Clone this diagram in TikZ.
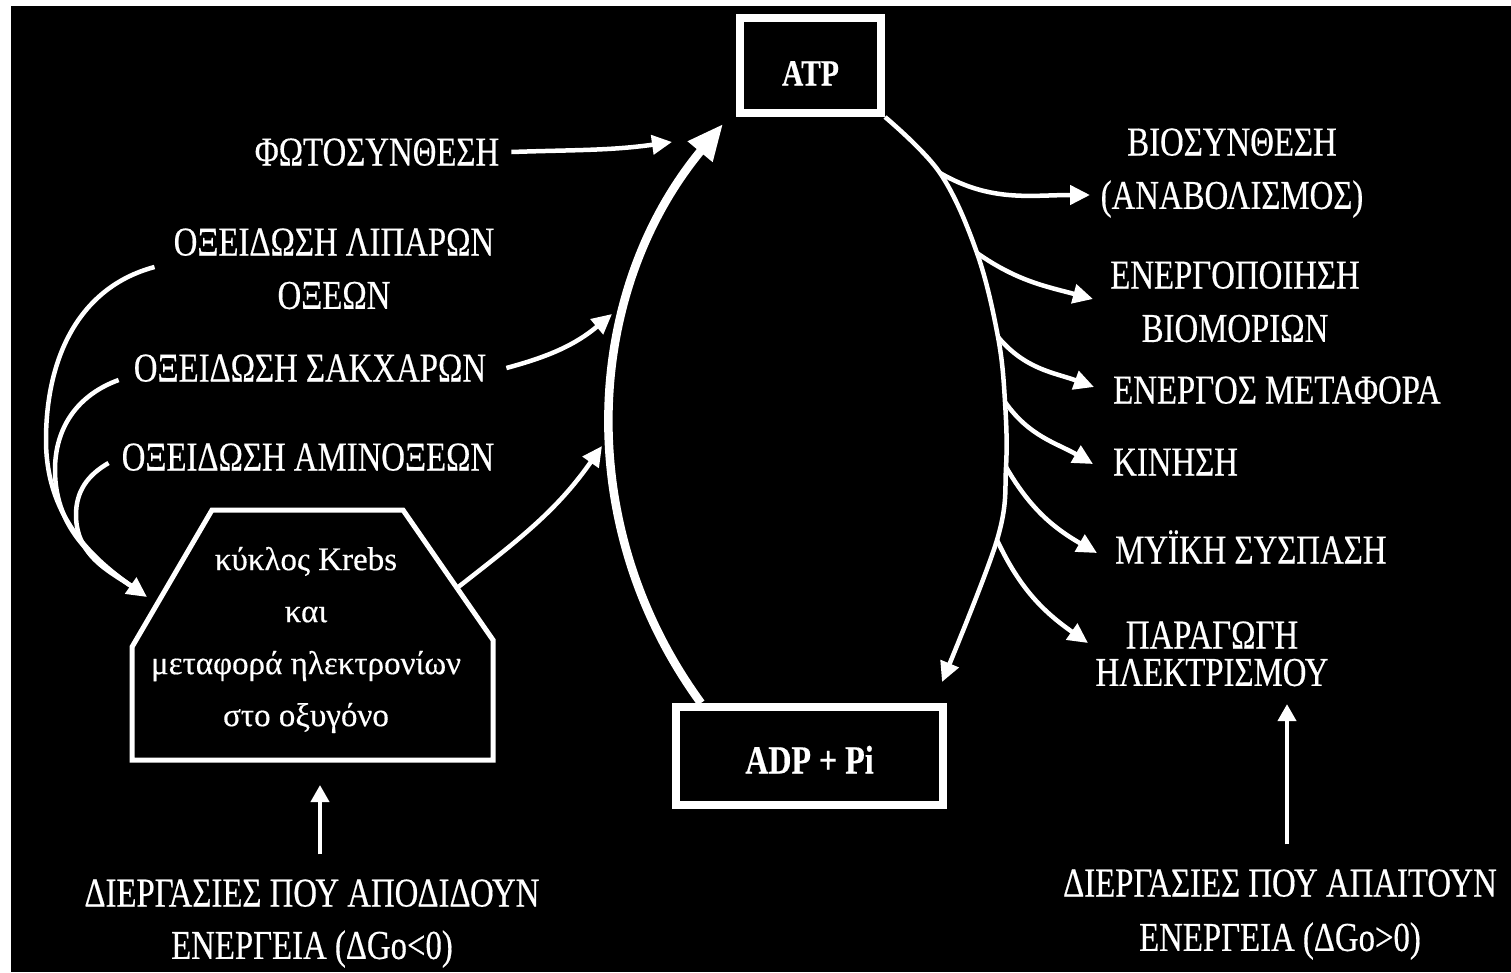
\documentclass[tikz,border=0pt]{standalone}
\usepackage{fontspec}
\setmainfont{Liberation Serif}[FakeStretch=0.80, FakeBold=0.4]
\newfontfamily\krebsfont{Liberation Serif}[FakeBold=0.4]
\usetikzlibrary{positioning,arrows.meta,calc}

\begin{document}
\begin{tikzpicture}[
  x=1pt, y=1pt,
  txt/.style={text=white, font=\fontsize{41}{48}\selectfont, inner sep=0pt, text height=27pt, text depth=0pt},
  ktxt/.style={text=white, font=\krebsfont\fontsize{33}{52}\selectfont, inner sep=0pt, align=center},
  molbox/.style={draw=white, line width=8pt, text=white, inner sep=0pt, text depth=0pt},
  kbox/.style={draw=white, line width=5pt, line join=miter},
  arr/.style={-{Triangle[length=20pt,width=19pt]}, color=white, line width=4.5pt},
  bigarr/.style={-{Triangle[length=36pt,width=30pt]}, color=white, line width=8.5pt},
  uparr/.style={-{Triangle[length=17pt,width=18pt]}, color=white, line width=4pt}
]
\useasboundingbox (0,0) rectangle (1511,-972);
\fill[white] (0,0) rectangle (1511,-972);
\fill[black] (11,-6) rectangle (1511,-972);

\node[molbox, minimum width=141pt, minimum height=95pt, font=\bfseries\fontsize{37}{40}\selectfont, text height=40pt] (atp) at (810.5,-65.5) {ATP};
\node[molbox, minimum width=267pt, minimum height=98pt, font=\bfseries\fontsize{40}{44}\selectfont, text height=35pt] (adp) at (809.5,-756) {ADP + Pi};

\node[txt] (foto) at (377,-152) {ΦΩΤΟΣΥΝΘΕΣΗ};
\node[txt] (lip1) at (334,-242) {ΟΞΕΙΔΩΣΗ ΛΙΠΑΡΩΝ};
\node[txt, below=26pt of lip1] (lip2) {ΟΞΕΩΝ};
\node[txt] (sakx) at (310,-368) {ΟΞΕΙΔΩΣΗ ΣΑΚΧΑΡΩΝ};
\node[txt] (amin) at (308,-457) {ΟΞΕΙΔΩΣΗ ΑΜΙΝΟΞΕΩΝ};
\node[txt] (apod1) at (312,-893) {ΔΙΕΡΓΑΣΙΕΣ ΠΟΥ ΑΠΟΔΙΔΟΥΝ};
\node[txt, below=25pt of apod1] (apod2) {ΕΝΕΡΓΕΙΑ (ΔGo<0)};

\node[txt] (bio1) at (1232,-142) {ΒΙΟΣΥΝΘΕΣΗ};
\node[txt, below=26pt of bio1] (bio2) {(ΑΝΑΒΟΛΙΣΜΟΣ)};
\node[txt] (energ1) at (1235,-275) {ΕΝΕΡΓΟΠΟΙΗΣΗ};
\node[txt, below=26pt of energ1] (energ2) {ΒΙΟΜΟΡΙΩΝ};
\node[txt, anchor=west] (metaf) at (1113,-390) {ΕΝΕΡΓΟΣ ΜΕΤΑΦΟΡΑ};
\node[txt, anchor=west] (kin) at (1113,-462) {ΚΙΝΗΣΗ};
\node[txt, anchor=west] (myik) at (1115,-550) {ΜΥΪΚΗ ΣΥΣΠΑΣΗ};
\node[txt] (parag1) at (1212,-635) {ΠΑΡΑΓΩΓΗ};
\node[txt, below=10pt of parag1] (parag2) {ΗΛΕΚΤΡΙΣΜΟΥ};
\node[txt] (apait1) at (1280,-883) {ΔΙΕΡΓΑΣΙΕΣ ΠΟΥ ΑΠΑΙΤΟΥΝ};
\node[txt, below=27pt of apait1] (apait2) {ΕΝΕΡΓΕΙΑ (ΔGo>0)};

\coordinate (k1) at (212,-510);
\coordinate (k2) at (403,-510);
\coordinate (k3) at (493,-640);
\coordinate (k4) at (493,-760);
\coordinate (k5) at (132,-760);
\coordinate (k6) at (132,-647);
\draw[kbox] (k1) -- (k2) -- (k3) -- (k4) -- (k5) -- (k6) -- cycle;
\node[ktxt] (krebs) at (306,-640) {κύκλος Krebs\\και\\μεταφορά ηλεκτρονίων\\στο οξυγόνο};

\coordinate (a1) at (672,-142);
\coordinate (a2) at (612,-314);
\coordinate (a3) at (602,-446);
\coordinate (kin0) at (147,-597);
\coordinate (b1) at (940,-173);
\coordinate (b2) at (977,-253);
\coordinate (b3) at (998,-337);
\coordinate (b4) at (1005,-402);
\coordinate (b5) at (1006,-467);
\coordinate (b6) at (997,-540);
\coordinate (r0) at (942,-682);
\coordinate (t1) at (1090,-195);
\coordinate (t2) at (1093,-299);
\coordinate (t3) at (1094,-387);
\coordinate (t4) at (1093,-464);
\coordinate (t5) at (1097,-553);
\coordinate (t6) at (1088,-643);

\draw[bigarr] ([xshift=29pt]adp.north west) .. controls (571,-525) and (584,-292) .. ([shift={(-13,-7)}]atp.south west);
\draw[arr] plot[smooth, tension=0.6] coordinates {(atp.south east) (b1) (b2) (b3) (b4) (b5) (b6) (r0)};

\draw[arr] ([xshift=12pt]foto.east) to[out=2,in=188] (a1);
\draw[arr] ([xshift=20pt]sakx.east) to[out=15,in=220] (a2);
\draw[arr] ($(k2)!0.6!(k3)$) to[out=38,in=235] (a3);

\draw[arr] ([shift={(-19,-25)}]lip1.west) to[out=195,in=90] (46,-440) to[out=270,in=145] (kin0);
\draw[arr, -, shorten >=16pt] ([shift={(-15,-12)}]sakx.west) to[out=200,in=90] (55,-470) to[out=270,in=145] (kin0);
\draw[arr, -, shorten >=16pt] ([shift={(-13,-6)}]amin.west) to[out=210,in=90] (76,-515) to[out=270,in=145] (kin0);

\draw[arr] (b1) to[out=-30,in=180] (t1);
\draw[arr] (b2) to[out=-35,in=165] (t2);
\draw[arr] (b3) to[out=-50,in=160] (t3);
\draw[arr] (b4) to[out=-55,in=150] (t4);
\draw[arr] (b5) to[out=-60,in=150] (t5);
\draw[arr] (b6) to[out=-65,in=145] (t6);

\draw[uparr] ($(apod1.north)+(8,25)$) -- ($(apod1.north |- k5)+(8,-25)$);
\draw[uparr] ($(apait1.north)+(7,25)$) -- ($(apait1.north |- parag2.south)+(7,-18)$);
\end{tikzpicture}
\end{document}
